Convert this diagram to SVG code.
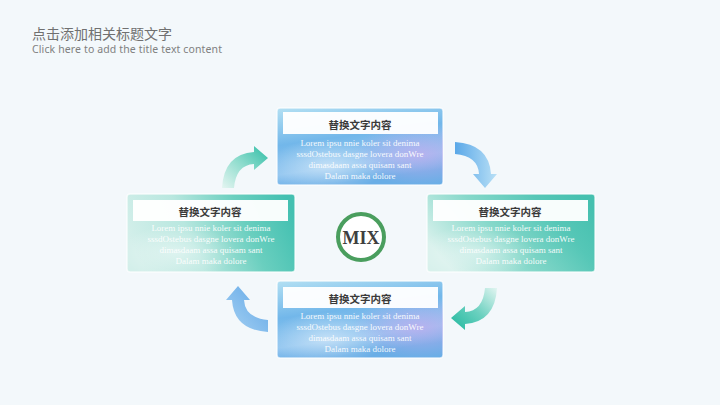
<svg xmlns="http://www.w3.org/2000/svg" width="720" height="405" viewBox="0 0 720 405">
<style>
.bar{fill:#ffffff;opacity:0.96}
.ttl{font-family:"Noto Sans CJK SC","Noto Sans",sans-serif;font-size:10.5px;font-weight:bold;fill:#3a3a3a;text-anchor:middle}
.lor{font-family:"Liberation Serif",serif;font-size:9px;fill:#ffffff;text-anchor:middle;opacity:0.92}
.frame{stroke:#ffffff;stroke-width:1.5;stroke-opacity:0.7}
</style>
<defs>
<linearGradient id="gBlue" x1="0" y1="0" x2="0.3" y2="1">
<stop offset="0" stop-color="#b3e0f3"/>
<stop offset="0.45" stop-color="#72b7ea"/>
<stop offset="0.8" stop-color="#92c6f0"/>
<stop offset="1" stop-color="#6aaee6"/>
</linearGradient>
<radialGradient id="gPurple" cx="0.85" cy="0.6" r="0.4">
<stop offset="0" stop-color="#c6a9ee" stop-opacity="0.7"/>
<stop offset="1" stop-color="#c6a9ee" stop-opacity="0"/>
</radialGradient>
<radialGradient id="gCloud" cx="0.3" cy="0.75" r="0.35">
<stop offset="0" stop-color="#ffffff" stop-opacity="0.45"/>
<stop offset="1" stop-color="#ffffff" stop-opacity="0"/>
</radialGradient>
<linearGradient id="gTealL" x1="0" y1="0.5" x2="1" y2="0.3">
<stop offset="0" stop-color="#d3efea"/>
<stop offset="0.35" stop-color="#b8e7df"/>
<stop offset="0.7" stop-color="#6acfbf"/>
<stop offset="1" stop-color="#43c0b1"/>
</linearGradient>
<linearGradient id="gTealR" x1="0" y1="0.6" x2="1" y2="0.2">
<stop offset="0" stop-color="#d8f1ec"/>
<stop offset="0.4" stop-color="#86d8ca"/>
<stop offset="0.75" stop-color="#56c7b7"/>
<stop offset="1" stop-color="#45c0af"/>
</linearGradient>
<linearGradient id="aTeal" x1="0" y1="1" x2="1" y2="0">
<stop offset="0" stop-color="#e4f5f1"/>
<stop offset="0.5" stop-color="#8edccd"/>
<stop offset="1" stop-color="#2fbda6"/>
</linearGradient>
<linearGradient id="aTeal2" x1="1" y1="0" x2="0" y2="1">
<stop offset="0" stop-color="#1fb89e"/>
<stop offset="0.5" stop-color="#6ad0bf"/>
<stop offset="1" stop-color="#e2f5f1"/>
</linearGradient>
<linearGradient id="aBlue" x1="0" y1="0" x2="0" y2="1">
<stop offset="0" stop-color="#b9e0f6"/>
<stop offset="1" stop-color="#5aa8e8"/>
</linearGradient>
<linearGradient id="aBlue2" x1="0" y1="0" x2="1" y2="1">
<stop offset="0" stop-color="#a8d2f3"/>
<stop offset="1" stop-color="#5ea6e6"/>
</linearGradient>
<path id="arr" d="M0,42 Q2,8 32,6 L32,0 L46,12 L32,24 L32,18 Q14,19 12,42 Z"/>
</defs>
<rect x="0" y="0" width="720" height="405" fill="#f3f8fb"/>
<g id="header">
<text x="32" y="39" font-family="'Noto Sans CJK SC','Noto Sans',sans-serif" font-size="14" fill="#707070">点击添加相关标题文字</text>
<text x="32" y="53" font-family="'Noto Sans','Open Sans',sans-serif" font-size="10.5" fill="#808080" textLength="190">Click here to add the title text content</text>
</g>
<g id="connectors">
<use href="#arr" transform="translate(222,146)" fill="url(#aTeal)"/>
<use href="#arr" transform="translate(497,142) rotate(90)" fill="url(#aBlue)"/>
<use href="#arr" transform="translate(497,330) rotate(180)" fill="url(#aTeal2)"/>
<use href="#arr" transform="translate(226,332) rotate(-90)" fill="url(#aBlue2)"/>
</g>
<g id="node-top">
<rect x="277" y="108" width="166" height="77" rx="3" fill="url(#gBlue)" class="frame"/>
<rect x="277" y="108" width="166" height="77" rx="3" fill="url(#gPurple)"/>
<rect x="277" y="108" width="166" height="77" rx="3" fill="url(#gCloud)"/>
<rect x="283" y="112" width="155" height="22" class="bar"/>
<text x="360" y="129" class="ttl">替换文字内容</text>
<text class="lor"><tspan x="360" y="146">Lorem ipsu nnie koler sit denima</tspan><tspan x="360" y="157">sssdOstebus dasgne lovera donWre</tspan><tspan x="360" y="168">dimasdaam assa quisam sant</tspan><tspan x="360" y="179">Dalam maka dolore</tspan></text>
</g>
<g id="node-left">
<rect x="127" y="194" width="168" height="78" rx="3" fill="url(#gTealL)" class="frame"/>
<rect x="127" y="194" width="168" height="78" rx="3" fill="url(#gCloud)"/>
<rect x="133" y="200" width="155" height="21" class="bar"/>
<text x="210" y="216" class="ttl">替换文字内容</text>
<text class="lor"><tspan x="211" y="231">Lorem ipsu nnie koler sit denima</tspan><tspan x="211" y="242">sssdOstebus dasgne lovera donWre</tspan><tspan x="211" y="253">dimasdaam assa quisam sant</tspan><tspan x="211" y="264">Dalam maka dolore</tspan></text>
</g>
<g id="node-right">
<rect x="427" y="194" width="168" height="78" rx="3" fill="url(#gTealR)" class="frame"/>
<rect x="427" y="194" width="168" height="78" rx="3" fill="url(#gCloud)"/>
<rect x="433" y="200" width="155" height="21" class="bar"/>
<text x="510" y="216" class="ttl">替换文字内容</text>
<text class="lor"><tspan x="511" y="231">Lorem ipsu nnie koler sit denima</tspan><tspan x="511" y="242">sssdOstebus dasgne lovera donWre</tspan><tspan x="511" y="253">dimasdaam assa quisam sant</tspan><tspan x="511" y="264">Dalam maka dolore</tspan></text>
</g>
<g id="node-bottom">
<rect x="277" y="281" width="166" height="77" rx="3" fill="url(#gBlue)" class="frame"/>
<rect x="277" y="281" width="166" height="77" rx="3" fill="url(#gPurple)"/>
<rect x="277" y="281" width="166" height="77" rx="3" fill="url(#gCloud)"/>
<rect x="283" y="287" width="155" height="21" class="bar"/>
<text x="360" y="303" class="ttl">替换文字内容</text>
<text class="lor"><tspan x="360" y="319">Lorem ipsu nnie koler sit denima</tspan><tspan x="360" y="330">sssdOstebus dasgne lovera donWre</tspan><tspan x="360" y="341">dimasdaam assa quisam sant</tspan><tspan x="360" y="352">Dalam maka dolore</tspan></text>
</g>
<g id="node-mix">
<circle cx="361" cy="237" r="23" fill="#ffffff" stroke="#4a9e5e" stroke-width="4"/>
<text x="361" y="244" text-anchor="middle" font-family="'Liberation Serif',serif" font-size="18" font-weight="bold" fill="#3f3f3f">MIX</text>
</g>
</svg>
